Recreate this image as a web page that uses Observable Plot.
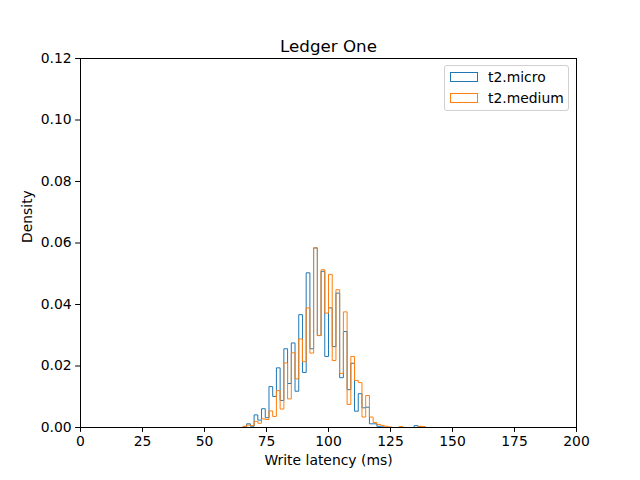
<!DOCTYPE html>
<html>
<head>
<meta charset="utf-8">
<script src="https://cdn.jsdelivr.net/npm/d3@7"></script>
<script src="https://cdn.jsdelivr.net/npm/@observablehq/plot@0.6"></script>
<style>
  body { margin: 0; background: #fff; font-family: "DejaVu Sans", sans-serif; }
  #wrap { position: relative; width: 640px; height: 480px; }
  #legend { position: absolute; left: 444px; top: 65px; width: 123px; height: 44px;
    border: 1px solid #d0d0d0; border-radius: 3px; background: rgba(255,255,255,0.8);
    font-size: 13.9px; color: #000; }
  .item { position: absolute; left: 5px; display: flex; align-items: center; height: 14px; }
  .sw { width: 28px; height: 10px; border: 1px solid; margin-right: 10px; box-sizing: border-box; }
</style>
</head>
<body>
<div id="wrap"></div>
<script>
const binStart = 25;
const binWidth = 1.5;
const seriesNames = ["t2.micro", "t2.medium"];
const seriesColors = ["#1f77b4", "#ff7f0e"];
const microDensity = [
  0,0,0,0,0,0,0,0,0,0,
  0,0,0,0,0,0,0,0,0,0,
  0,0,0,0,0,0,0,0.0002,0.0012,0.0004,
  0.0041,0.0024,0.0061,0.0032,0.0133,0.0101,0.0194,0.0088,0.0256,0.0143,
  0.0275,0.0118,0.0367,0.0179,0.0503,0.0256,0.0584,0.0299,0.0508,0.0231,
  0.0389,0.0263,0.0437,0.0162,0.0312,0.0123,0.0209,0.0053,0.0110,0.0064,
  0.0066,0.0012,0.0012,0.0004,0.0002,0,0,0,0,0,
  0,0,0,0.0006,0.0003,0.0002,0,0,0,0,
  0,0,0,0,0,0,0,0,0,0,
  0,0,0,0,0,0,0,0,0,0
];
const mediumDensity = [
  0,0,0,0,0,0,0,0,0,0,
  0,0,0,0,0,0,0,0,0,0,
  0,0,0,0,0,0,0,0.0004,0.0008,0.0006,
  0.0020,0.0014,0.0028,0.0026,0.0054,0.0036,0.0120,0.0060,0.0210,0.0093,
  0.0243,0.0158,0.0288,0.0214,0.0389,0.0242,0.0584,0.0299,0.0513,0.0372,
  0.0498,0.0218,0.0448,0.0176,0.0376,0.0075,0.0231,0.0153,0.0146,0.0034,
  0.0104,0.0034,0.0016,0.0010,0.0007,0.0004,0.0002,0,0,0.0003,
  0,0,0,0,0.0004,0.0003,0,0,0,0,
  0,0,0,0,0,0,0,0,0,0,
  0,0,0,0,0,0,0,0,0,0
];
const xTicks = [0, 25, 50, 75, 100, 125, 150, 175, 200];
const yTicks = [0, 0.02, 0.04, 0.06, 0.08, 0.10, 0.12];

function stepPoints(values, name) {
  const pts = values.map((v, i) => ({x: binStart + i * binWidth, y: v, s: name}));
  pts.push({x: binStart + values.length * binWidth, y: values[values.length - 1], s: name});
  return pts;
}
const microPts = stepPoints(microDensity, seriesNames[0]);
const mediumPts = stepPoints(mediumDensity, seriesNames[1]);

const fs = 13.9;
const chart = Plot.plot({
  width: 640, height: 480,
  marginLeft: 80, marginRight: 64, marginTop: 58, marginBottom: 53,
  style: {fontFamily: "DejaVu Sans", fontSize: fs + "px", color: "#000", background: "#fff"},
  x: {domain: [0, 200]},
  y: {domain: [0, 0.12]},
  marks: [
    Plot.line(microPts, {x: "x", y: "y", curve: "step-after", stroke: seriesColors[0], strokeWidth: 1}),
    Plot.line(mediumPts, {x: "x", y: "y", curve: "step-after", stroke: seriesColors[1], strokeWidth: 1}),
    Plot.frame({stroke: "#000", strokeWidth: 1}),
    Plot.axisX({ticks: xTicks, tickSize: 4.9, tickPadding: 4, fontSize: fs, label: null, tickFormat: d => String(d)}),
    Plot.axisY({ticks: yTicks, tickSize: 4.9, tickPadding: 4, fontSize: fs, label: null, tickFormat: d3.format(".2f")}),
    Plot.text(["Ledger One"], {frameAnchor: "top", dy: -18, fontSize: 16.7, text: d => d}),
    Plot.text(["Write latency (ms)"], {frameAnchor: "bottom", dy: 37, fontSize: fs, text: d => d}),
    Plot.text(["Density"], {frameAnchor: "left", dx: -53, rotate: -90, fontSize: fs, text: d => d})
  ]
});
const wrap = document.getElementById("wrap");
wrap.appendChild(chart);

const legend = document.createElement("div");
legend.id = "legend";
seriesNames.forEach((n, i) => {
  const item = document.createElement("div");
  item.className = "item";
  item.style.top = (4 + i * 21) + "px";
  const sw = document.createElement("span");
  sw.className = "sw";
  sw.style.borderColor = seriesColors[i];
  item.appendChild(sw);
  const t = document.createElement("span");
  t.textContent = n;
  item.appendChild(t);
  legend.appendChild(item);
});
wrap.appendChild(legend);
</script>
</body>
</html>
